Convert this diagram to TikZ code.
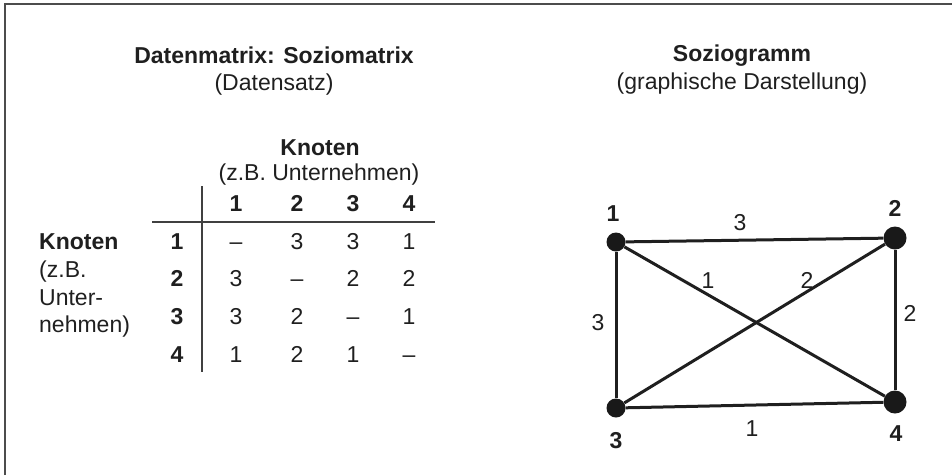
\documentclass[tikz,border=0pt]{standalone}
\usepackage{fontspec}
\setmainfont{Liberation Sans}
\begin{document}
\begin{tikzpicture}[x=1pt,y=-1pt,
  txt/.style={inner sep=0pt, anchor=base, text=black!88, font=\fontsize{23}{27}\selectfont},
  btxt/.style={txt, font=\fontsize{23}{27}\selectfont\bfseries},
  ltxt/.style={txt, anchor=base west},
  lbtxt/.style={btxt, anchor=base west},
  dot/.style={circle, fill=black!90, inner sep=0pt, minimum size=#1},
  edge/.style={line width=3pt, black!88},
  rule/.style={line width=1.6pt, black!75},
  frame/.style={line width=2pt, black!70}]
\useasboundingbox (0,0) rectangle (952,475);
% frame (left and top)
\coordinate (fb) at (5,475);
\coordinate (fc) at (5,4);
\coordinate (fr) at (952,4);
\draw[frame] (fb) -- (fc) -- (fr);

% left titles
\node[btxt] (t1) at (274,63) {Datenmatrix: Soziomatrix};
\node[txt] (t2) at (274,90) {(Datensatz)};
\node[btxt] (k1) at (320,155) {Knoten};
\node[txt] (k2) at (319,180) {(z.B. Unternehmen)};

% row label
\node[lbtxt] (r1) at (39,249) {Knoten};
\node[ltxt] (r2) at (39,277) {(z.B.};
\node[ltxt] (r3) at (39,305) {Unter-};
\node[ltxt] (r4) at (39,332) {nehmen)};

% matrix rules
\coordinate (vt) at (202,186);
\coordinate (vb) at (202,372);
\coordinate (hl) at (152,222);
\coordinate (hr) at (435,222);
\draw[rule] (vt) -- (vb);
\draw[rule] (hl) -- (hr);

% column headers
\node[btxt] (c1) at (236,211) {1};
\node[btxt] (c2) at (297,211) {2};
\node[btxt] (c3) at (353,211) {3};
\node[btxt] (c4) at (409,211) {4};
% row headers
\node[btxt] (h1) at (177,249) {1};
\node[btxt] (h2) at (177,286) {2};
\node[btxt] (h3) at (177,324) {3};
\node[btxt] (h4) at (177,362) {4};
% entries
\node[txt] (m11) at (236,249) {--};
\node[txt] (m12) at (297,249) {3};
\node[txt] (m13) at (353,249) {3};
\node[txt] (m14) at (409,249) {1};
\node[txt] (m21) at (236,286) {3};
\node[txt] (m22) at (297,286) {--};
\node[txt] (m23) at (353,286) {2};
\node[txt] (m24) at (409,286) {2};
\node[txt] (m31) at (236,324) {3};
\node[txt] (m32) at (297,324) {2};
\node[txt] (m33) at (353,324) {--};
\node[txt] (m34) at (409,324) {1};
\node[txt] (m41) at (236,362) {1};
\node[txt] (m42) at (297,362) {2};
\node[txt] (m43) at (353,362) {1};
\node[txt] (m44) at (409,362) {--};

% right titles
\node[btxt] (s1) at (742,61) {Soziogramm};
\node[txt] (s2) at (742,89) {(graphische Darstellung)};

% graph
\node[dot=19pt] (n1) at (616,242) {};
\node[dot=23pt] (n2) at (895,238) {};
\node[dot=19pt] (n3) at (616,408) {};
\node[dot=23pt] (n4) at (895,402) {};
\draw[edge] (n1) -- (n2);
\draw[edge] (n1) -- (n3);
\draw[edge] (n1) -- (n4);
\draw[edge] (n2) -- (n3);
\draw[edge] (n2) -- (n4);
\draw[edge] (n3) -- (n4);
% node labels
\node[btxt] (l1) at (613,221) {1};
\node[btxt] (l2) at (895,216) {2};
\node[btxt] (l3) at (616,448) {3};
\node[btxt] (l4) at (896,441) {4};
% edge labels
\node[txt] (e12) at (740,230) {3};
\node[txt] (e14) at (708,288) {1};
\node[txt] (e23) at (807,288) {2};
\node[txt] (e13) at (598,330) {3};
\node[txt] (e24) at (910,321) {2};
\node[txt] (e34) at (752,436) {1};
\end{tikzpicture}
\end{document}
